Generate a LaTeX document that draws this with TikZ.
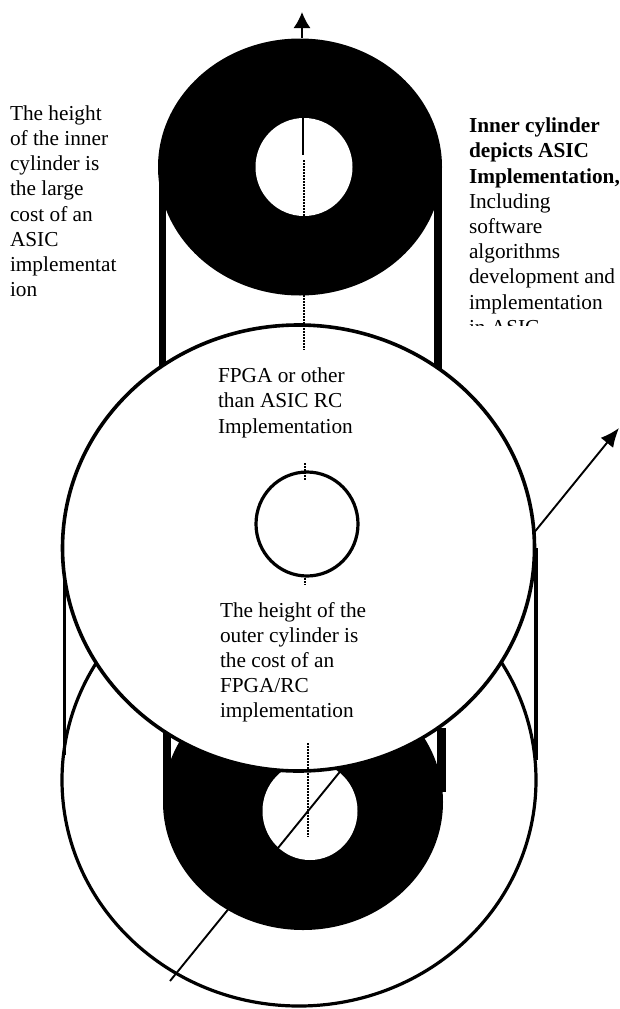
\documentclass[tikz,border=0pt]{standalone}
\usepackage{fontspec}
\setmainfont{Liberation Serif}
\usetikzlibrary{shapes.geometric,arrows.meta}
\tikzset{
  disc/.style={ellipse,inner sep=0pt,outer sep=0pt},
  whitedisc/.style={disc,draw=black,fill=white,line width=3.6pt},
  blackdisc/.style={disc,fill=black},
  holedisc/.style={disc,fill=white},
  wall/.style={line width=#1,draw=black},
  axis/.style={draw=black,line width=1.2pt,dash pattern=on 1.5pt off 1.5pt},
  pointer/.style={draw=black,line width=1.9pt,-{Latex[length=19pt,width=16pt]}},
  label/.style={anchor=north west,inner sep=0pt,outer sep=0pt,align=left,font=\fontsize{21.3}{25.2}\selectfont}
}
\begin{document}
\begin{tikzpicture}[x=1pt,y=-1pt]
\useasboundingbox (0,0) rectangle (620,1009);
% lower outer end of the outer cylinder
\node[whitedisc,line width=3.2pt,minimum width=474pt,minimum height=452pt] (outerbase) at (299,780) {};
\coordinate (olt) at (64.5,548); \coordinate (olb) at (64.5,755);
\coordinate (ort) at (536,548); \coordinate (orb) at (536,760);
\draw[wall=3.2pt] (olt) -- (olb);
\draw[wall=3.2pt] (ort) -- (orb);
% lower end of the inner cylinder
\coordinate (ilt) at (167,728); \coordinate (ilb) at (167,802);
\coordinate (irt) at (441,728); \coordinate (irb) at (441,792);
\draw[wall=8pt] (ilt) -- (ilb);
\draw[wall=9pt] (irt) -- (irb);
\node[blackdisc,minimum width=280pt,minimum height=256pt] (innerbase) at (303,802) {};
\node[holedisc,minimum width=95pt,minimum height=98pt] (innerhole) at (310,811) {};
% long axis arrow
\coordinate (dtail) at (170,981);
\coordinate (dtip) at (619,428);
\draw[pointer] (dtail) -- (dtip);
% upper end of inner cylinder
\coordinate (tlt) at (162.5,167); \coordinate (tlb) at (162.5,372);
\coordinate (trt) at (438,167); \coordinate (trb) at (438,376);
\draw[wall=7.5pt] (tlt) -- (tlb);
\draw[wall=7.5pt] (trt) -- (trb);
\node[blackdisc,minimum width=284pt,minimum height=257pt] (innertop) at (300,167) {};
\node[holedisc,minimum width=97pt,minimum height=98pt] (tophole) at (304,167) {};
\coordinate (uptip) at (302,12);
\draw[draw=black,line width=1.7pt,-{Latex[length=16pt,width=17pt]}] (302,38) -- (uptip);
\coordinate (solidend) at (303,155);
\draw[line width=1.5pt] (303,118) -- (solidend);
% upper end of outer cylinder
\node[whitedisc,minimum width=472pt,minimum height=446pt] (outertop) at (298.5,548) {};
\node[disc,draw=black,fill=white,line width=3.2pt,minimum width=102pt,minimum height=104pt] (centre) at (307,524) {};
% dotted axis pieces
\draw[axis] (304,160) -- (304,350);
\draw[axis] (305,463) -- (305,480);
\draw[axis] (305,578) -- (305,585);
\draw[axis] (308,743) -- (308,837);
% texts
\node[label] (lefttext) at (10,105.5) {The height\\of the inner\\cylinder is\\the large\\cost of an\\ASIC\\implementat\\ion};
\begin{scope}
\clip (460,100) rectangle (620,325);
\node[label] (righttext) at (469,118) {\textbf{Inner cylinder}\\\textbf{depicts ASIC}\\\textbf{Implementation,}\\Including\\software\\algorithms\\development and\\implementation\\in ASIC};
\end{scope}
\node[label] (fpgatext) at (218,368) {FPGA or other\\than ASIC RC\\Implementation};
\node[label] (heighttext) at (220,602) {The height of the\\outer cylinder is\\the cost of an\\FPGA/RC\\implementation};
\end{tikzpicture}
\end{document}
